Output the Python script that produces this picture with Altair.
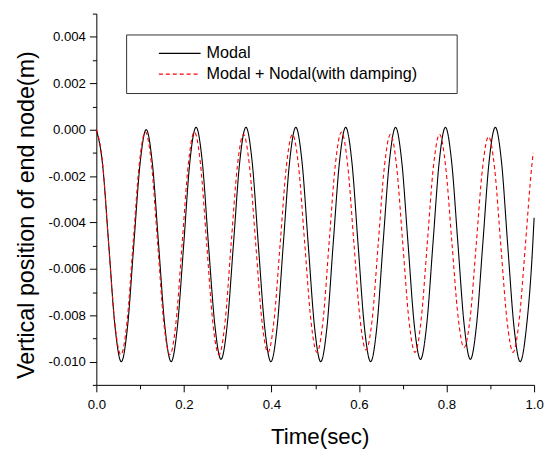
import altair as alt
import pandas as pd

series_names = ["Modal", "Modal + Nodal(with damping)"]

modal_t = [0.0000, 0.0142, 0.0285, 0.0427, 0.0570, 0.0712, 0.0854, 0.0997,
           0.1139, 0.1282, 0.1424, 0.1566, 0.1709, 0.1851, 0.1994, 0.2136,
           0.2278, 0.2421, 0.2563, 0.2706, 0.2848, 0.2990, 0.3133, 0.3275,
           0.3418, 0.3560, 0.3702, 0.3845, 0.3987, 0.4130, 0.4272, 0.4414,
           0.4557, 0.4699, 0.4842, 0.4984, 0.5126, 0.5269, 0.5411, 0.5554,
           0.5696, 0.5838, 0.5981, 0.6123, 0.6266, 0.6408, 0.6550, 0.6693,
           0.6835, 0.6978, 0.7120, 0.7262, 0.7405, 0.7547, 0.7690, 0.7832,
           0.7974, 0.8117, 0.8259, 0.8402, 0.8544, 0.8686, 0.8829, 0.8971,
           0.9114, 0.9256, 0.9398, 0.9541, 0.9683, 0.9826, 0.9968, 1.0000]
modal_y = [0.0000, -0.0015, -0.0050, -0.0085, -0.0100, -0.0085, -0.0050, -0.0015,
           0.0000, -0.0015, -0.0050, -0.0085, -0.0100, -0.0085, -0.0050, -0.0014,
           0.0001, -0.0014, -0.0050, -0.0084, -0.0099, -0.0084, -0.0049, -0.0014,
           0.0001, -0.0014, -0.0050, -0.0085, -0.0100, -0.0085, -0.0049, -0.0014,
           0.0001, -0.0014, -0.0050, -0.0085, -0.0100, -0.0085, -0.0049, -0.0014,
           0.0001, -0.0014, -0.0050, -0.0085, -0.0100, -0.0085, -0.0049, -0.0014,
           0.0001, -0.0014, -0.0049, -0.0084, -0.0099, -0.0084, -0.0049, -0.0014,
           0.0001, -0.0014, -0.0049, -0.0084, -0.0099, -0.0084, -0.0049, -0.0014,
           0.0001, -0.0014, -0.0050, -0.0085, -0.0100, -0.0085, -0.0050, -0.0038]

nodal_t = [0.000, 0.014, 0.028, 0.042, 0.056, 0.070, 0.084, 0.098,
           0.112, 0.126, 0.140, 0.154, 0.168, 0.182, 0.196, 0.210,
           0.224, 0.238, 0.252, 0.266, 0.280, 0.294, 0.308, 0.322,
           0.336, 0.350, 0.364, 0.378, 0.392, 0.406, 0.420, 0.434,
           0.448, 0.462, 0.476, 0.490, 0.504, 0.518, 0.532, 0.546,
           0.560, 0.574, 0.588, 0.602, 0.616, 0.630, 0.644, 0.658,
           0.672, 0.686, 0.700, 0.714, 0.728, 0.742, 0.756, 0.770,
           0.784, 0.798, 0.812, 0.826, 0.840, 0.854, 0.868, 0.882,
           0.896, 0.910, 0.924, 0.938, 0.952, 0.966, 0.980, 0.994, 0.998]
nodal_y = [0.0000, -0.0014, -0.0049, -0.0083, -0.0097, -0.0083, -0.0049, -0.0015,
           -0.0001, -0.0015, -0.0049, -0.0083, -0.0097, -0.0083, -0.0049, -0.0015,
           -0.0001, -0.0015, -0.0049, -0.0083, -0.0097, -0.0083, -0.0049, -0.0016,
           -0.0002, -0.0016, -0.0049, -0.0082, -0.0096, -0.0082, -0.0049, -0.0016,
           -0.0002, -0.0016, -0.0049, -0.0082, -0.0096, -0.0082, -0.0048, -0.0015,
           -0.0001, -0.0015, -0.0048, -0.0081, -0.0095, -0.0082, -0.0049, -0.0016,
           -0.0002, -0.0016, -0.0049, -0.0082, -0.0096, -0.0082, -0.0049, -0.0016,
           -0.0002, -0.0016, -0.0048, -0.0080, -0.0094, -0.0081, -0.0049, -0.0017,
           -0.0003, -0.0017, -0.0050, -0.0082, -0.0096, -0.0082, -0.0050, -0.0017, -0.0010]

x_ticks = [0.0, 0.1, 0.2, 0.3, 0.4, 0.5, 0.6, 0.7, 0.8, 0.9, 1.0]
y_ticks = [-0.011, -0.010, -0.009, -0.008, -0.007, -0.006, -0.005, -0.004,
           -0.003, -0.002, -0.001, 0.000, 0.001, 0.002, 0.003, 0.004, 0.005]

rows = []
for i, (t, y) in enumerate(zip(modal_t, modal_y)):
    rows.append({"t": t, "y": y, "series": series_names[0], "ord": i})
for i, (t, y) in enumerate(zip(nodal_t, nodal_y)):
    rows.append({"t": t, "y": y, "series": series_names[1], "ord": i})
df = pd.DataFrame(rows)

FONT = "Liberation Sans"

leg = alt.Legend(
    title=".", titleOrient="right", titlePadding=25, titleColor="rgba(0,0,0,0)",
    titleFont=FONT, titleFontSize=16,
    orient="none", legendX=30, legendY=21,
    strokeColor="#333333", padding=10, symbolType="stroke",
    symbolSize=1764, symbolStrokeWidth=1.2, symbolOffset=22,
    labelFont=FONT, labelFontSize=16.3, labelColor="#000000",
    labelOffset=5, rowPadding=3, clipHeight=18, labelLimit=400,
)

x_axis = alt.Axis(
    values=x_ticks,
    labelExpr="round(datum.value*10) % 2 != 0 ? '' : format(datum.value, '.1f')",
    tickSize={"condition": {"test": "round(datum.value*10) % 2 != 0", "value": 4}, "value": 7},
    labelPadding=6, labelOverlap=False, labelFlush=False,
    titleFontSize=22.5, titleBaseline="alphabetic", titleY=59.3, titleX=225,
)
y_axis = alt.Axis(
    values=y_ticks,
    labelExpr="round(datum.value*1000) % 2 != 0 ? '' : replace(format(datum.value, '.3f'), '\u2212', '-')",
    tickSize={"condition": {"test": "round(datum.value*1000) % 2 != 0", "value": 4}, "value": 7},
    labelPadding=4, labelOverlap=False, labelFlush=False,
    titleFontSize=23.5, titleBaseline="alphabetic", titleX=-63.4, titleY=202.5,
)

chart = alt.Chart(df).mark_line(interpolate="monotone", strokeWidth=1.1).encode(
    x=alt.X("t:Q", title="Time(sec)",
            scale=alt.Scale(domain=[0, 1], nice=False, zero=False), axis=x_axis),
    y=alt.Y("y:Q", title="Vertical position of end node(m)",
            scale=alt.Scale(domain=[-0.011, 0.005], nice=False, zero=False), axis=y_axis),
    color=alt.Color("series:N", sort=series_names,
                    scale=alt.Scale(domain=series_names, range=["#000000", "#ff0000"]),
                    legend=leg),
    strokeDash=alt.StrokeDash("series:N", sort=series_names,
                              scale=alt.Scale(domain=series_names, range=[[1, 0], [4, 3]]),
                              legend=leg),
    order="ord:Q",
).properties(
    width=441, height=374,
    autosize=alt.AutoSizeParams(type="none"),
    padding={"left": 89, "top": 4, "right": 13, "bottom": 69},
).configure_view(stroke=None).configure_axis(
    grid=False, domainColor="#000000", tickColor="#000000", domainWidth=1, tickWidth=1,
    labelColor="#000000", titleColor="#000000", labelFont=FONT, titleFont=FONT,
    labelFontSize=13.3, titleFontWeight="normal",
)

chart.save("out.html", embed_options={"renderer": "svg", "actions": False})
